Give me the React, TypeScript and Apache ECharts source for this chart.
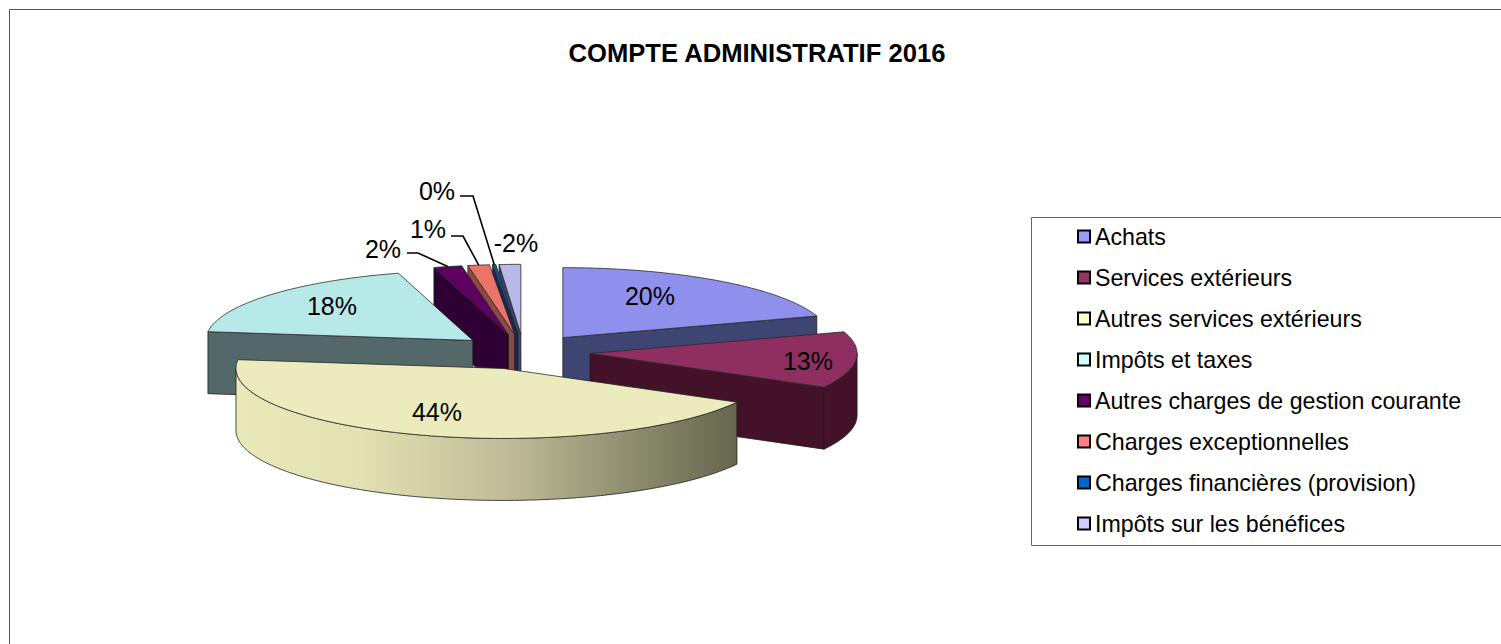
import React, { useEffect, useRef } from "react";
import * as echarts from "echarts";

const titleText = "COMPTE ADMINISTRATIF 2016";
const categories = [
  "Achats",
  "Services extérieurs",
  "Autres services extérieurs",
  "Impôts et taxes",
  "Autres charges de gestion courante",
  "Charges exceptionnelles",
  "Charges financières (provision)",
  "Impôts sur les bénéfices",
];
// share of the pie, in percent
const shares = [20, 13, 44, 18.5, 1.7, 1.3, 0.2, 1.3];
const percentLabels = ["20%", "13%", "44%", "18%", "2%", "1%", "0%", "-2%"];

const legendColors = ["#9999ff", "#993366", "#ffffcc", "#ccffff", "#660066", "#ff8080", "#0066cc", "#ccccff"];
const topColors = ["#8f8fee", "#8e2f60", "#ecebbd", "#b8e9e9", "#5e005f", "#ea736a", "#1b4f8c", "#b9b9e9"];
const wallColors = ["#3e4572", "#431228", "#66664e", "#54686a", "#2f0033", "#8c4a42", "#14294f", "#3d4468"];
const drawOrder = [4, 5, 6, 4, 3, 2, 1, 0]; // back-to-front layer of each slice

// label anchors and leader elbows (screen layout)
const labelPositions = [[650, 296], [808, 361], [437, 412], [332, 306], [383, 249], [428, 229], [437, 191], [516, 243]];
const leaderStarts: (number[][] | null)[] = [
  null, null, null, null,
  [[407, 253], [418, 253]],
  [[451, 236], [463, 236]],
  [[460, 196], [473, 196]],
  null,
];

const CX = 523.6, CY = 351.8, RX = 267, RY = 70, EXPLODE = 0.25, DEPTH = 62;

const total = shares.reduce((a, b) => a + b, 0);
const startAngles: number[] = [];
shares.reduce((acc, v, i) => {
  startAngles[i] = (acc / total) * 360;
  return acc + v;
}, 0);

const rad = (d: number) => (d * Math.PI) / 180;

function sliceShapes(i: number) {
  const a = startAngles[i];
  const b = a + (shares[i] / total) * 360;
  const mid = (a + b) / 2;
  const ax = CX + EXPLODE * RX * Math.sin(rad(mid));
  const ay = CY - EXPLODE * RY * Math.cos(rad(mid));
  const pt = (t: number, drop = 0) => [ax + RX * Math.sin(rad(t)), ay - RY * Math.cos(rad(t)) + drop];
  const arc = (from: number, to: number, drop = 0) => {
    const pts: number[][] = [];
    const n = Math.max(2, Math.ceil(Math.abs(to - from)));
    for (let k = 0; k <= n; k++) pts.push(pt(from + ((to - from) * k) / n, drop));
    return pts;
  };
  const apex = [ax, ay];
  const apexLow = [ax, ay + DEPTH];
  const edge = { stroke: "#1d1d1d", lineWidth: 0.8 };
  const children: any[] = [];
  const wall = (points: number[][], fill: any) =>
    children.push({ type: "polygon", shape: { points }, style: { fill, ...edge } });

  if (a > 180) wall([apex, pt(a), pt(a, DEPTH), apexLow], wallColors[i]);
  if (b < 180) wall([apex, pt(b), pt(b, DEPTH), apexLow], wallColors[i]);
  const wa = Math.max(a, 90), wb = Math.min(b, 270);
  if (wb > wa) {
    const fill =
      i === 2
        ? new echarts.graphic.LinearGradient(0, 0, 1, 0, [
            { offset: 0, color: "#e9e8b9" },
            { offset: 0.25, color: "#e2e1b1" },
            { offset: 0.55, color: "#bdbb97" },
            { offset: 0.78, color: "#8f8e70" },
            { offset: 1, color: "#66664e" },
          ])
        : wallColors[i];
    wall([...arc(wa, wb), ...arc(wb, wa, DEPTH)], fill);
  }
  children.push({
    type: "polygon",
    shape: { points: [apex, ...arc(a, b)] },
    style: { fill: topColors[i], stroke: "#2a2a2a", lineWidth: 0.8 },
  });
  const start = leaderStarts[i];
  if (start) {
    children.push({
      type: "polyline",
      shape: { points: [...start, pt(mid)] },
      style: { fill: "none", stroke: "#000", lineWidth: 1.6 },
    });
  }
  children.push({
    type: "text",
    style: {
      text: percentLabels[i],
      x: labelPositions[i][0],
      y: labelPositions[i][1],
      align: "center",
      verticalAlign: "middle",
      font: "25px 'Liberation Sans', Arial, sans-serif",
      fill: "#000",
    },
  });
  return children;
}

export default function App() {
  const ref = useRef<HTMLDivElement>(null);
  useEffect(() => {
    const chart = echarts.init(ref.current!, null, { renderer: "svg" });
    chart.setOption({
      animation: false,
      backgroundColor: "#fff",
      title: {
        text: titleText,
        left: 752,
        top: 35,
        textAlign: "center",
        textStyle: { fontFamily: "'Liberation Sans', Arial, sans-serif", fontWeight: "bold", fontSize: 25.6, color: "#000" },
      },
      legend: {
        orient: "vertical",
        left: 1077,
        top: 225,
        padding: 0,
        itemWidth: 12,
        itemHeight: 12,
        itemGap: 18,
        data: categories,
        icon: "rect",
        itemStyle: { borderColor: "#000", borderWidth: 2 },
        textStyle: { fontFamily: "'Liberation Sans', Arial, sans-serif", fontSize: 23.2, lineHeight: 23, color: "#000" },
      },
      graphic: [
        { type: "rect", z: -1, shape: { x: 9.5, y: 9.5, width: 1700, height: 900 }, style: { fill: "none", stroke: "#555", lineWidth: 1 } },
        { type: "rect", z: -1, shape: { x: 1031.5, y: 217.5, width: 600, height: 328 }, style: { fill: "#fff", stroke: "#666", lineWidth: 1 } },
      ],
      series: categories.map((name, i) => ({
        type: "custom",
        name,
        coordinateSystem: "none",
        z: 2 + drawOrder[i],
        itemStyle: { color: legendColors[i] },
        data: [[shares[i]]],
        renderItem: () => ({ type: "group", children: sliceShapes(i) }),
      })),
    });
    return () => chart.dispose();
  }, []);
  return <div ref={ref} style={{ position: "fixed", left: 0, top: 0, width: 1501, height: 644 }} />;
}
